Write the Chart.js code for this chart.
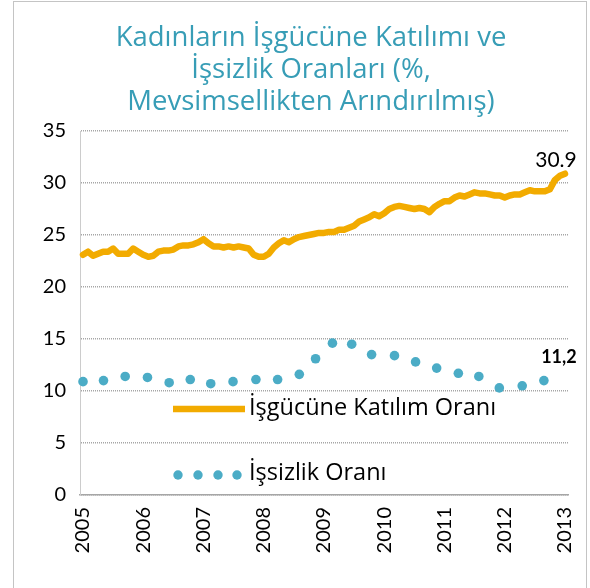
<!DOCTYPE html>
<html>
<head>
<meta charset="utf-8">
<script src="https://cdn.jsdelivr.net/npm/chart.js@4.4.1/dist/chart.umd.min.js"></script>
<style>
  html, body { margin: 0; padding: 0; background: #fff; }
  #wrap { width: 590px; height: 588px; position: relative; }
</style>
</head>
<body>
<div id="wrap"><canvas id="c" width="590" height="588"></canvas></div>
<script>
// ---------- DATA ----------
const titleLines = ['Kadınların İşgücüne Katılımı ve', 'İşsizlik Oranları (%,', 'Mevsimsellikten Arındırılmış)'];
const seriesNames = ['İşgücüne Katılım Oranı', 'İşsizlik Oranı'];
const xTickLabels = ['2005', '2006', '2007', '2008', '2009', '2010', '2011', '2012', '2013'];
const yTickValues = [0, 5, 10, 15, 20, 25, 30, 35];
const endLabels = ['30.9', '11,2'];

// Female labour force participation rate, monthly from Jan 2005 to Jan 2013
const participationStart = 2005;
const participation = [
  23.1, 23.4, 23.0, 23.2, 23.4, 23.4, 23.7, 23.2, 23.2, 23.2, 23.7, 23.4,
  23.1, 22.9, 23.0, 23.4, 23.5, 23.5, 23.6, 23.9, 24.0, 24.0, 24.1, 24.3,
  24.6, 24.2, 23.9, 23.9, 23.8, 23.9, 23.8, 23.9, 23.8, 23.7, 23.1, 22.9,
  22.9, 23.2, 23.8, 24.2, 24.5, 24.3, 24.6, 24.8, 24.9, 25.0, 25.1, 25.2,
  25.2, 25.3, 25.3, 25.5, 25.5, 25.7, 25.9, 26.3, 26.5, 26.7, 27.0, 26.8,
  27.1, 27.5, 27.7, 27.8, 27.7, 27.6, 27.5, 27.6, 27.5, 27.2, 27.7, 28.0,
  28.25, 28.25, 28.6, 28.8, 28.7, 28.9, 29.1, 29.0, 29.0, 28.9, 28.8, 28.8,
  28.6, 28.8, 28.9, 28.9, 29.1, 29.3, 29.2, 29.2, 29.2, 29.4, 30.3, 30.7,
  30.9
];

// Female unemployment rate, read at the visible dots (time in years)
const unemploymentTime = [
  2005.00, 2005.34, 2005.70, 2006.07, 2006.43, 2006.78, 2007.12, 2007.49,
  2007.87, 2008.23, 2008.59, 2008.86, 2009.14, 2009.46, 2009.79, 2010.17,
  2010.52, 2010.87, 2011.23, 2011.57, 2011.91, 2012.29, 2012.65
];
const unemployment = [
  10.9, 11.0, 11.4, 11.3, 10.8, 11.1, 10.7, 10.9,
  11.1, 11.1, 11.6, 13.1, 14.6, 14.5, 13.5, 13.4,
  12.8, 12.2, 11.7, 11.4, 10.3, 10.5, 11.0
];

// ---------- STYLE ----------
const ORANGE = '#f2ab00';
const TEAL = '#4bacc6';
const TITLE_COLOR = '#379db6';
const FONT = 'Lato';
const TFONT = '"Open Sans"';

const participationPoints = participation.map((v, i) => ({ x: participationStart + i / 12, y: v }));
const unemploymentPoints = unemployment.map((v, i) => ({ x: unemploymentTime[i], y: v }));

const decorPlugin = {
  id: 'decor',
  beforeDraw(chart) {
    const ctx = chart.ctx;
    ctx.save();
    ctx.fillStyle = '#fff';
    ctx.fillRect(0, 0, chart.width, chart.height);
    ctx.strokeStyle = '#c4c4c4';
    ctx.lineWidth = 1;
    ctx.strokeRect(13.5, 1.5, 573, 620);
    ctx.restore();
  },
  afterDraw(chart) {
    const ctx = chart.ctx;
    ctx.save();
    // Title
    ctx.fillStyle = TITLE_COLOR;
    ctx.font = '27.5px ' + TFONT;
    ctx.textAlign = 'center';
    ctx.textBaseline = 'alphabetic';
    const tb = [46, 78, 110];
    titleLines.forEach((t, i) => ctx.fillText(t, 311, tb[i]));

    // Legend
    ctx.textAlign = 'left';
    ctx.textBaseline = 'middle';
    ctx.font = '23.5px ' + TFONT;
    ctx.fillStyle = '#000';
    ctx.strokeStyle = ORANGE;
    ctx.lineWidth = 6.5;
    ctx.lineCap = 'butt';
    ctx.beginPath();
    ctx.moveTo(173, 409);
    ctx.lineTo(245, 409);
    ctx.stroke();
    ctx.fillText(seriesNames[0], 249, 408);
    ctx.fillStyle = TEAL;
    [178, 198, 218, 237].forEach(x => {
      ctx.beginPath();
      ctx.arc(x, 475, 4.7, 0, Math.PI * 2);
      ctx.fill();
    });
    ctx.fillStyle = '#000';
    ctx.fillText(seriesNames[1], 249, 473);

    // End value labels
    const m0 = chart.getDatasetMeta(0).data;
    const p0 = m0[m0.length - 1];
    ctx.textAlign = 'center';
    ctx.textBaseline = 'middle';
    ctx.font = '21px ' + FONT;
    ctx.fillText(endLabels[0], p0.x - 9, p0.y - 13);
    const m1 = chart.getDatasetMeta(1).data;
    const p1 = m1[m1.length - 1];
    ctx.font = 'bold 18px ' + FONT;
    ctx.fillText(endLabels[1], p1.x + 15, p1.y - 23);
    ctx.restore();
  }
};

new Chart(document.getElementById('c'), {
  type: 'line',
  data: {
    datasets: [
      {
        label: seriesNames[0],
        data: participationPoints,
        borderColor: ORANGE,
        backgroundColor: ORANGE,
        borderWidth: 6.5,
        pointRadius: 0,
        borderCapStyle: 'round',
        borderJoinStyle: 'round',
        tension: 0,
        clip: false
      },
      {
        label: seriesNames[1],
        data: unemploymentPoints,
        showLine: false,
        pointRadius: 4.8,
        pointBorderWidth: 0,
        pointBackgroundColor: TEAL,
        pointBorderColor: TEAL,
        clip: false
      }
    ]
  },
  options: {
    responsive: false,
    animation: false,
    devicePixelRatio: 1,
    layout: { padding: { top: 131, right: 22, left: 0, bottom: 0 } },
    plugins: {
      legend: { display: false },
      title: { display: false },
      tooltip: { enabled: false }
    },
    scales: {
      x: {
        type: 'linear',
        min: 2004.95,
        max: 2013.05,
        afterBuildTicks(scale) {
          scale.ticks = xTickLabels.map(l => ({ value: Number(l) }));
        },
        afterFit(scale) {
          scale.height = 93;
          scale.paddingLeft = 0;
          scale.paddingRight = 0;
        },
        ticks: {
          callback: (v) => xTickLabels.find(l => Number(l) === v) || '',
          minRotation: 90,
          maxRotation: 90,
          padding: 12,
          color: '#000',
          font: { family: FONT, size: 20 }
        },
        grid: { display: false, drawTicks: false },
        border: { display: true, color: '#a6a6a6', width: 1.5 }
      },
      y: {
        min: 0,
        max: 35,
        afterBuildTicks(scale) {
          scale.ticks = yTickValues.map(v => ({ value: v }));
        },
        afterFit(scale) { scale.width = 80; },
        ticks: {
          padding: 14,
          color: '#000',
          font: { family: FONT, size: 20 }
        },
        grid: { color: '#a6a6a6', lineWidth: 1.5, drawTicks: false },
        border: { display: true, color: '#cccccc', width: 1, dash: [1, 1] }
      }
    }
  },
  plugins: [decorPlugin]
});
</script>
</body>
</html>
